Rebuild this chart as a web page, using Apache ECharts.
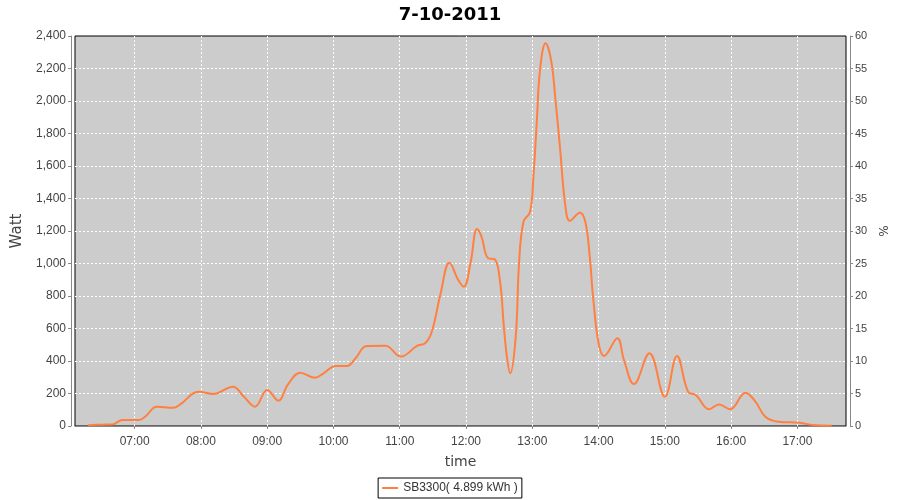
<!DOCTYPE html>
<html>
<head>
<meta charset="utf-8">
<script src="https://cdn.jsdelivr.net/npm/echarts@6/dist/echarts.min.js"></script>
<style>html,body{margin:0;padding:0;background:#fff}#c{width:900px;height:500px}</style>
</head>
<body>
<div id="c"></div>
<script>
const titleText = '7-10-2011';
const seriesName = 'SB3300( 4.899 kWh )';
const times = ['06:18','06:30','06:40','06:49','07:04','07:10','07:20','07:35','07:41','07:58','08:11','08:29','08:39','08:49','09:00','09:10','09:19','09:30','09:43','09:51','10:02','10:12','10:20','10:30','10:47','11:01','11:16','11:23','11:29','11:37','11:45','11:53','11:58','12:04','12:10','12:14','12:20','12:26','12:31','12:34','12:37','12:40','12:45','12:48','12:52','12:58','13:01','13:04','13:07','13:12','13:17','13:21','13:25','13:30','13:34','13:43','13:48','13:52','13:55','14:00','14:05','14:17','14:23','14:32','14:46','15:00','15:11','15:21','15:28','15:40','15:49','15:59','16:13','16:22','16:31','16:43','17:02','17:14','17:31'];
const watts = [5,8,10,37,37,60,119,113,131,211,197,242,180,119,222,156,258,328,297,324,369,369,417,492,494,427,495,509,580,816,1005,898,857,1001,1212,1165,1032,1026,878,632,427,324,550,1001,1257,1319,1534,1863,2191,2355,2252,2006,1719,1350,1263,1313,1257,1042,796,509,431,540,406,258,447,180,431,211,191,103,133,103,205,150,57,26,20,6,2];
const wattTicks = {min: 0, max: 2400, interval: 200};
const pctTicks = {min: 0, max: 60, interval: 5};

function toTs(s){ const p = s.split(':'); return new Date(2011, 9, 7, +p[0], +p[1]).getTime(); }
function pad(n){ return (n < 10 ? '0' : '') + n; }
const data = times.map((t, i) => [toTs(t), watts[i]]);

const labelFont = {fontFamily: 'Liberation Sans', fontSize: 12, color: '#444'};
const chart = echarts.init(document.getElementById('c'), null, {renderer: 'canvas'});
chart.setOption({
  animation: false,
  backgroundColor: '#fff',
  title: {text: titleText, left: 'center', top: 1, textStyle: {fontFamily: 'DejaVu Sans', fontWeight: 'bold', fontSize: 18, color: '#000'}},
  grid: {left: 75, right: 54, top: 36, bottom: 74, show: true, backgroundColor: '#cccccc', borderColor: '#000', borderWidth: 1},
  legend: {
    data: [seriesName], left: 'center', bottom: 2, orient: 'horizontal',
    borderColor: '#000', borderWidth: 1, padding: [4, 4, 4, 4],
    backgroundColor: '#fff', icon: 'rect', itemWidth: 16, itemHeight: 2, itemGap: 4,
    textStyle: {fontFamily: 'Liberation Sans', fontSize: 12, color: '#333'}
  },
  xAxis: {
    type: 'time', name: 'time', nameLocation: 'middle', nameGap: 25,
    nameTextStyle: {fontFamily: 'DejaVu Sans', fontSize: 14, color: '#444'},
    min: toTs('06:06'), max: toTs('17:44'),
    minInterval: 3600000, maxInterval: 3600000,
    offset: 4,
    axisLine: {show: true, lineStyle: {color: '#888'}},
    axisTick: {show: true, length: 3, lineStyle: {color: '#888'}},
    axisLabel: Object.assign({margin: 6, showMinLabel: false, showMaxLabel: false, formatter: function(v){ const d = new Date(v); return d.getMinutes() === 0 ? pad(d.getHours()) + ':00' : ''; }}, labelFont),
    splitLine: {show: true, showMinLine: false, showMaxLine: false, lineStyle: {color: '#fff', type: [2, 2], width: 1}}
  },
  yAxis: [{
    type: 'value', name: 'Watt', nameLocation: 'middle', nameGap: 46, nameRotate: 90,
    nameTextStyle: {fontFamily: 'DejaVu Sans', fontSize: 15, color: '#444'},
    min: wattTicks.min, max: wattTicks.max, interval: wattTicks.interval,
    offset: 4,
    axisLine: {show: true, lineStyle: {color: '#888'}},
    axisTick: {show: true, length: 3, lineStyle: {color: '#888'}},
    axisLabel: Object.assign({margin: 5, formatter: function(v){ return v.toString().replace(/\B(?=(\d{3})+(?!\d))/g, ','); }}, labelFont),
    splitLine: {show: true, showMinLine: false, showMaxLine: false, lineStyle: {color: '#fff', type: [2, 2], width: 1}}
  }, {
    type: 'value', name: '%', nameLocation: 'middle', nameGap: 29, nameRotate: 90,
    nameTextStyle: {fontFamily: 'DejaVu Sans', fontSize: 12, color: '#444'},
    min: pctTicks.min, max: pctTicks.max, interval: pctTicks.interval,
    offset: 4, position: 'right',
    axisLine: {show: true, lineStyle: {color: '#888'}},
    axisTick: {show: true, length: 3, lineStyle: {color: '#888'}},
    axisLabel: Object.assign({margin: 5}, labelFont, {fontSize: 11}),
    splitLine: {show: false}
  }],
  series: [{
    name: seriesName, type: 'line', data: data, smooth: 0.4, showSymbol: false,
    lineStyle: {color: '#ff8040', width: 2}, itemStyle: {color: '#ff8040'}
  }]
});
</script>
</body>
</html>
